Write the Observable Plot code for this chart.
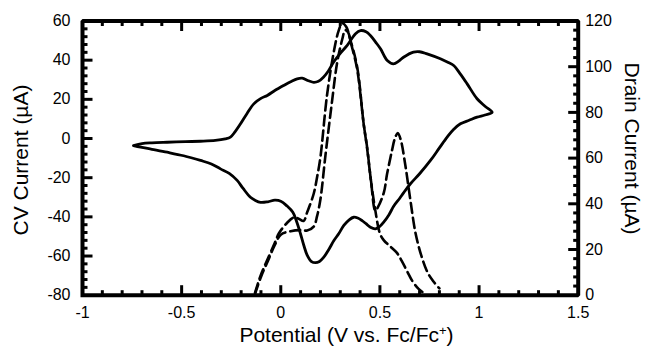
<!DOCTYPE html>
<html><head><meta charset="utf-8">
<script src="https://cdn.jsdelivr.net/npm/d3@7"></script>
<script src="https://cdn.jsdelivr.net/npm/@observablehq/plot@0.6"></script>
<style>html,body{margin:0;padding:0;background:#fff} svg{display:block}</style>
</head><body><div id="chart"></div>
<script>
// CV loop: potential (V vs Fc/Fc+) and current (µA), left axis
const cvPotential = [-0.743,-0.70,-0.65,-0.573,-0.48,-0.405,-0.33,-0.28,-0.254,-0.23,-0.203,-0.17,-0.136,-0.10,-0.068,-0.03,0.015,0.05,0.083,0.108,0.14,0.166,0.19,0.215,0.24,0.266,0.30,0.335,0.377,0.402,0.43,0.452,0.48,0.503,0.537,0.568,0.595,0.619,0.669,0.70,0.738,0.805,0.845,0.872,0.905,0.94,0.99,1.03,1.066,
  1.03,0.99,0.95,0.906,0.87,0.839,0.80,0.755,0.70,0.654,0.62,0.60,0.57,0.545,0.519,0.50,0.477,0.452,0.43,0.41,0.388,0.368,0.345,0.318,0.293,0.268,0.243,0.217,0.195,0.175,0.155,0.133,0.116,0.099,0.082,0.06,0.032,0.0,-0.03,-0.065,-0.102,-0.13,-0.153,-0.19,-0.22,-0.26,-0.304,-0.35,-0.405,-0.49,-0.573,-0.65,-0.707,-0.743];
const cvCurrent = [-3.6,-2.6,-2.2,-1.9,-1.6,-1.4,-1.0,-0.2,0.7,3.5,7.5,12.8,17.7,20.5,22.0,24.5,27.1,29.0,30.5,30.8,29.5,28.7,29.2,31.3,34.5,39.0,43.5,47.5,53.5,55.1,54.5,52.6,49.0,45.8,39.8,38.1,39.5,41.5,44.1,44.3,43.2,40.7,38.8,37.3,33.0,27.9,20.3,16.5,13.4,
  12.0,10.9,9.3,7.5,4.5,0.7,-4.8,-11.2,-18.0,-23.1,-27.6,-30.5,-34.5,-39.0,-42.7,-44.8,-46.1,-45.3,-43.5,-41.9,-40.6,-40.2,-41.5,-44.4,-48.5,-52.1,-56.5,-60.6,-62.8,-63.4,-62.8,-59.5,-54.5,-48.5,-43.0,-37.5,-34.5,-32.0,-31.5,-32.3,-32.6,-31.5,-30.0,-25.5,-21.4,-17.8,-15.5,-13.0,-11.2,-8.8,-7.0,-5.5,-4.4,-3.6];

// Drain current sweeps (µA), right axis
const drainAPotential = [-0.13,-0.10,-0.06,-0.03,-0.01,0.03,0.065,0.09,0.115,0.133,0.166,0.183,0.20,0.233,0.267,0.292,0.31,0.33,0.35,0.385,0.418,0.435,0.455,0.477,0.49,0.52,0.536,0.56,0.575,0.59,0.605,0.628,0.653,0.68,0.71,0.74,0.77,0.80];
const drainACurrent   = [1,9,17,23,27,31.5,34,33.5,32.5,36.3,44.4,51.6,60.4,87.4,106.3,115.8,119,117.5,112,100,75,65,50,37,38.5,45,53,63,68.5,71,68,57,42,27,17,10,6,3];
const drainBPotential = [-0.13,-0.10,-0.06,-0.03,0.0,0.05,0.1,0.133,0.166,0.183,0.20,0.225,0.258,0.284,0.31,0.325,0.34,0.355,0.385,0.418,0.435,0.455,0.477,0.5,0.52,0.55,0.586,0.61,0.637,0.665,0.695,0.72];
const drainBCurrent   = [0.5,8,16,22,26.5,28,28.5,28.3,30,34.6,42,61,84.5,101.6,112,116,115,110,99,75,64.5,50,37,27,24,21.5,18.5,15,10.5,6,2.8,1];

const xTicks = [-1,-0.5,0,0.5,1,1.5];
const leftTicks = [-80,-60,-40,-20,0,20,40,60];
const rightTicks = [0,20,40,60,80,100,120];

const xDomain = [-1, 1.5];
const leftDomain = [-80, 60];
const rightDomain = [0, 120];
const toLeft = d => leftDomain[0] + (d - rightDomain[0]) * (leftDomain[1]-leftDomain[0])/(rightDomain[1]-rightDomain[0]);
const toRight = v => rightDomain[0] + (v - leftDomain[0]) * (rightDomain[1]-rightDomain[0])/(leftDomain[1]-leftDomain[0]);

const cv = cvPotential.map((v,i)=>({v, c: cvCurrent[i]}));
const drainA = drainAPotential.map((v,i)=>({v, c: toLeft(drainACurrent[i])}));
const drainB = drainBPotential.map((v,i)=>({v, c: toLeft(drainBCurrent[i])}));

// tick sets (minor every 0.1 V / 4 µA, major every 0.5 V / 20 µA)
const xMinor = d3.range(-10, 16).map(k=>k/10).filter(v=>Math.abs(v*2-Math.round(v*2))>1e-6);
const xMajor = [-0.5,0,0.5,1];
const yMinorL = d3.range(-80, 61, 4).filter(v=>v%20!==0);
const yMajorL = [-60,-40,-20,0,20,40];
const yMinorR = d3.range(0,121,4).filter(v=>v%20!==0).map(toLeft);
const yMajorR = [20,40,60,80,100].map(toLeft);

const W=645, H=348, mL=82, mR=67.3, mT=20.5, mB=53.3;
const pxX = (xDomain[1]-xDomain[0])/(W-mL-mR);
const pxY = (leftDomain[1]-leftDomain[0])/(H-mT-mB);
const minorLen = 5, majorLen = 10, tw = 3;
const tf = "'Liberation Sans', Arial, Helvetica, sans-serif";

// frame outline from the axis domains
const frameBox = [
  {v: xDomain[0], c: leftDomain[0]}, {v: xDomain[1], c: leftDomain[0]},
  {v: xDomain[1], c: leftDomain[1]}, {v: xDomain[0], c: leftDomain[1]},
  {v: xDomain[0], c: leftDomain[0]}
];

const tickLinks = [];
xMinor.forEach(v => { tickLinks.push({x1:v,x2:v,y1:leftDomain[0],y2:leftDomain[0]+minorLen*pxY}); tickLinks.push({x1:v,x2:v,y1:leftDomain[1],y2:leftDomain[1]-minorLen*pxY}); });
xMajor.forEach(v => { tickLinks.push({x1:v,x2:v,y1:leftDomain[0],y2:leftDomain[0]+majorLen*pxY}); tickLinks.push({x1:v,x2:v,y1:leftDomain[1],y2:leftDomain[1]-majorLen*pxY}); });
yMinorL.forEach(v => tickLinks.push({x1:xDomain[0],x2:xDomain[0]+minorLen*pxX,y1:v,y2:v}));
yMajorL.forEach(v => tickLinks.push({x1:xDomain[0],x2:xDomain[0]+majorLen*pxX,y1:v,y2:v}));
yMinorR.forEach(v => tickLinks.push({x1:xDomain[1],x2:xDomain[1]-minorLen*pxX,y1:v,y2:v}));
yMajorR.forEach(v => tickLinks.push({x1:xDomain[1],x2:xDomain[1]-majorLen*pxX,y1:v,y2:v}));

const plot = Plot.plot({
  width: W, height: H,
  marginLeft: mL, marginRight: mR, marginTop: mT, marginBottom: mB,
  x: {domain: xDomain},
  y: {domain: leftDomain},
  style: {fontFamily: tf, fontSize: "16px", color: "black", background: "white"},
  marks: [
    Plot.link(tickLinks, {x1: "x1", x2: "x2", y1: "y1", y2: "y2", stroke: "black", strokeWidth: tw}),
    Plot.line(drainA, {x: "v", y: "c", stroke: "black", strokeWidth: 2.6, strokeDasharray: "10,5", curve: "catmull-rom"}),
    Plot.line(drainB, {x: "v", y: "c", stroke: "black", strokeWidth: 2.6, strokeDasharray: "10,5", curve: "catmull-rom"}),
    Plot.line(cv, {x: "v", y: "c", stroke: "black", strokeWidth: 2.8, curve: "catmull-rom", strokeLinejoin: "round"}),
    Plot.line(frameBox, {x: "v", y: "c", stroke: "black", strokeWidth: 4, strokeLinejoin: "miter", strokeLinecap: "square"}),
    Plot.axisX(xTicks, {anchor: "bottom", tickSize: 0, tickPadding: 11, tickFormat: d => String(d), label: null}),
    Plot.axisY(leftTicks, {anchor: "left", tickSize: 0, tickPadding: 12, tickFormat: d => String(d), label: null}),
    Plot.axisY(rightTicks.map(toLeft), {anchor: "right", tickSize: 0, tickPadding: 7, tickFormat: d => String(Math.round(toRight(d))), label: null})
  ]
});

const svg = d3.select(plot);
svg.append("text").attr("transform","translate(28,160) rotate(-90)")
  .attr("text-anchor","middle").attr("font-size",21).attr("font-family",tf).attr("fill","black")
  .text("CV Current (µA)");
svg.append("text").attr("transform","translate(625,148.5) rotate(90)")
  .attr("text-anchor","middle").attr("font-size",21).attr("font-family",tf).attr("fill","black")
  .text("Drain Current (µA)");
const bt = svg.append("text").attr("x",346.5).attr("y",342).attr("text-anchor","middle")
  .attr("font-size",21).attr("font-family",tf).attr("fill","black");
bt.append("tspan").text("Potential (V vs. Fc/Fc");
bt.append("tspan").attr("font-size",13).attr("dy",-7).text("+");
bt.append("tspan").attr("dy",7).text(")");

document.getElementById("chart").appendChild(plot);
</script>
</body></html>
